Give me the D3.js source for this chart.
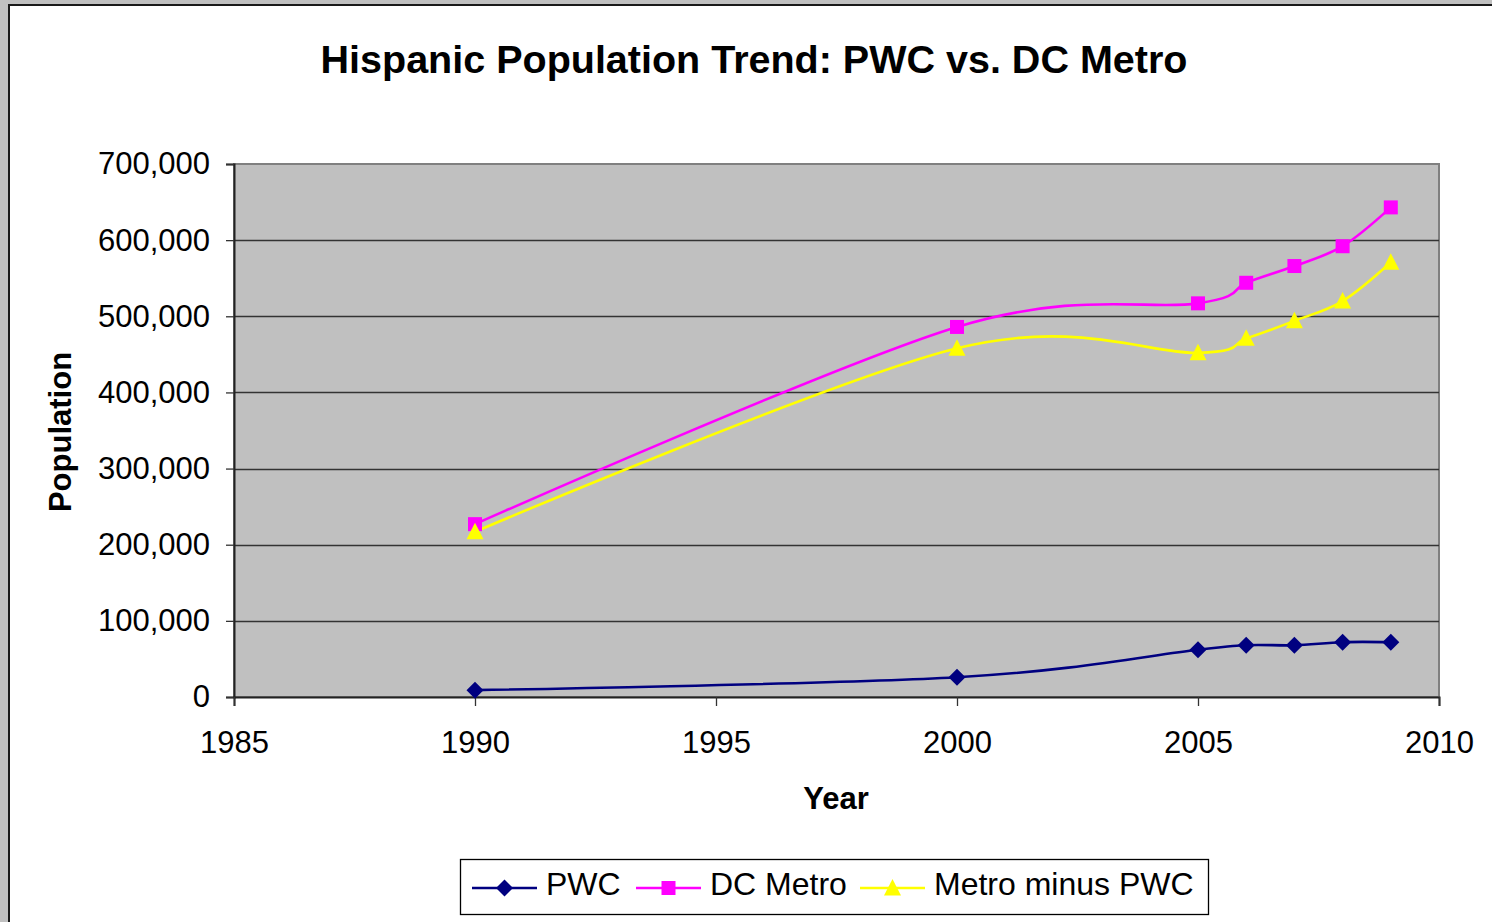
<!DOCTYPE html>
<html>
<head>
<meta charset="utf-8">
<script src="https://cdn.jsdelivr.net/npm/d3@7"></script>
<style>
  body { margin: 0; background: #c0c0c0; }
  svg { display: block; font-family: "Liberation Sans", Arial, sans-serif; }
</style>
</head>
<body>
<div id="chart"></div>
<script>
const years = [1990, 2000, 2005, 2006, 2007, 2008, 2009];
const pwc = [9000, 26000, 62000, 68000, 68000, 72000, 72000];
const dcMetro = [227000, 486000, 517000, 544000, 566000, 592000, 643000];
const metroMinusPwc = [217000, 458000, 452000, 471000, 494000, 520000, 571000];
const seriesNames = ['PWC', 'DC Metro', 'Metro minus PWC'];
const xTicks = [1985, 1990, 1995, 2000, 2005, 2010];
const yTicks = [0, 100000, 200000, 300000, 400000, 500000, 600000, 700000];

const W = 1492, H = 922;
const plotL = 234, plotR = 1439, plotT = 164, plotB = 697;

const svg = d3.select('#chart').append('svg').attr('width', W).attr('height', H);

// chart frame
svg.append('rect').attr('x', 9).attr('y', 5).attr('width', W + 20).attr('height', H + 20)
  .attr('fill', '#fff').attr('stroke', '#1a1a1a').attr('stroke-width', 2);

const x = d3.scaleLinear().domain([1985, 2010]).range([plotL, plotR]);
const y = d3.scaleLinear().domain([0, 700000]).range([plotB, plotT]);

// plot area
svg.append('rect').attr('x', plotL).attr('y', plotT).attr('width', plotR - plotL).attr('height', plotB - plotT)
  .attr('fill', '#c0c0c0').attr('stroke', '#808080').attr('stroke-width', 2);

// gridlines
svg.append('g').selectAll('line').data(yTicks.slice(1, -1)).enter().append('line')
  .attr('x1', plotL).attr('x2', plotR)
  .attr('y1', d => Math.round(y(d)) + 0.5).attr('y2', d => Math.round(y(d)) + 0.5)
  .attr('stroke', '#333').attr('stroke-width', 1.3);

// axes
const yAxis = svg.append('g').attr('transform', `translate(${plotL},0)`)
  .call(d3.axisLeft(y).tickValues(yTicks).tickSize(8).tickPadding(16).tickFormat(d3.format(',')));
const xAxis = svg.append('g').attr('transform', `translate(0,${plotB})`)
  .call(d3.axisBottom(x).tickValues(xTicks).tickSize(9).tickPadding(24).tickFormat(d3.format('d')));
[yAxis, xAxis].forEach(a => {
  a.select('.domain').attr('stroke', '#222').attr('stroke-width', 2);
  a.selectAll('.tick line').attr('stroke', '#333').attr('stroke-width', 1.3);
  a.selectAll('text').attr('font-size', 31).attr('fill', '#000')
    .attr('font-family', '"Liberation Sans", Arial, sans-serif');
});
xAxis.selectAll('.tick text').attr('dy', null).attr('y', 56);

// series
const series = [
  {name: seriesNames[0], values: pwc, color: '#000080', marker: 'diamond'},
  {name: seriesNames[1], values: dcMetro, color: '#ff00ff', marker: 'square'},
  {name: seriesNames[2], values: metroMinusPwc, color: '#ffff00', marker: 'triangle'}
];

// uniform catmull-rom is close to the smoothing used in the original
const line = d3.line().x(d => x(d[0])).y(d => y(d[1])).curve(d3.curveCatmullRom.alpha(0));

function markerPath(type) {
  if (type === 'diamond') return 'M0,-8.5L8.5,0L0,8.5L-8.5,0Z';
  if (type === 'square') return 'M-7,-7H7V7H-7Z';
  return 'M0,-9L8.5,7.5L-8.5,7.5Z';
}

const plot = svg.append('g');
series.forEach(s => {
  const pts = years.map((yr, i) => [yr, s.values[i]]);
  plot.append('path').datum(pts).attr('d', line)
    .attr('fill', 'none').attr('stroke', s.color).attr('stroke-width', 2.6);
});
series.forEach(s => {
  const pts = years.map((yr, i) => [yr, s.values[i]]);
  plot.selectAll(null).data(pts).enter().append('path')
    .attr('transform', d => `translate(${x(d[0])},${y(d[1])})`)
    .attr('d', markerPath(s.marker)).attr('fill', s.color);
});

// titles
svg.append('text').attr('x', 754).attr('y', 73).attr('text-anchor', 'middle')
  .attr('font-size', 39.5).attr('font-weight', 'bold').text('Hispanic Population Trend: PWC vs. DC Metro');
svg.append('text').attr('x', 836).attr('y', 809).attr('text-anchor', 'middle')
  .attr('font-size', 31).attr('font-weight', 'bold').text('Year');
svg.append('text').attr('transform', 'translate(71,432) rotate(-90)').attr('text-anchor', 'middle')
  .attr('font-size', 31).attr('font-weight', 'bold').text('Population');

// legend
const legend = svg.append('g');
legend.append('rect').attr('x', 460.5).attr('y', 859.5).attr('width', 748).attr('height', 55)
  .attr('fill', '#fff').attr('stroke', '#000').attr('stroke-width', 1.3);
const legendX = [472, 636, 860];
series.forEach((s, i) => {
  const g = legend.append('g').attr('transform', `translate(${legendX[i]},0)`);
  g.append('line').attr('x1', 0).attr('x2', 65).attr('y1', 888).attr('y2', 888)
    .attr('stroke', s.color).attr('stroke-width', 2.6);
  g.append('path').attr('transform', 'translate(32.5,888)').attr('d', markerPath(s.marker)).attr('fill', s.color);
  g.append('text').attr('x', 74).attr('y', 895).attr('font-size', 32).text(s.name);
});
</script>
</body>
</html>
